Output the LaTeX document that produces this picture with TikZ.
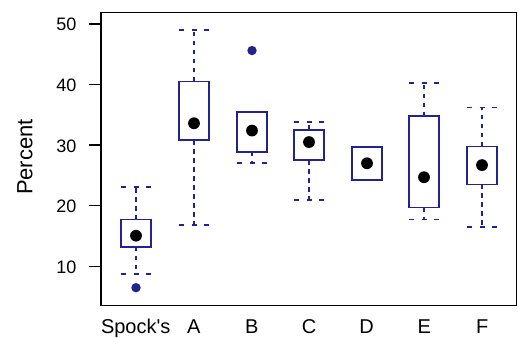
\documentclass[tikz,border=0pt]{standalone}
\usepackage{fontspec}
\setmainfont{Liberation Sans}
\definecolor{bxblue}{HTML}{23238C}
\newcommand\drawbxp[6]{%
  % #1 x, #2 lo, #3 q1, #4 med, #5 q3, #6 hi
  \draw[whisk] (#1,#3) -- (#1,#2);
  \draw[whisk] (#1,#5) -- (#1,#6);
  \draw[capline] (#1-15,#2) -- (#1+15,#2);
  \draw[capline] (#1-15,#6) -- (#1+15,#6);
  \draw[boxline] (#1-15,#3) rectangle (#1+15,#5);
  \fill[black] (#1,#4) ellipse [x radius=5.9pt, y radius=5.9pt];
}
\tikzset{
  whisk/.style={draw=bxblue, line width=1.7pt, dash pattern=on 4.5pt off 4.5pt},
  capline/.style={draw=bxblue, line width=1.7pt, dash pattern=on 5pt off 7.5pt},
  boxline/.style={draw=bxblue, line width=1.6pt},
  ticklab/.style={font=\fontsize{18}{18}\selectfont, anchor=east, inner sep=0pt},
  xlab/.style={font=\fontsize{20}{20}\selectfont, anchor=base, inner sep=0pt},
}
\begin{document}
\begin{tikzpicture}[x=1pt,y=1pt]
\useasboundingbox (0,0) rectangle (518,337);
\begin{scope}[y=6.06pt, yshift=10.1pt]
  \draw[line width=1.3pt, black] (101,3.5) rectangle (516.7,51.85);
  \foreach \v in {10,20,30,40,50} {
    \draw[line width=1.3pt] (89.3,\v) -- (101,\v);
    \node[ticklab] (t\v) at (76.5,\v-0.12) {\v};
  }
  \drawbxp{136}{8.68}{13.2}{15.05}{17.7}{23.1}
  \fill[bxblue] (136,6.47) circle[radius=4.7pt];
  \drawbxp{194}{16.77}{30.8}{33.6}{40.5}{48.94}
  \drawbxp{252}{27.0}{28.9}{32.4}{35.5}{35.5}
  \fill[bxblue] (252,45.6) circle[radius=4.7pt];
  \drawbxp{309}{20.9}{27.5}{30.5}{32.5}{33.8}
  \drawbxp{367}{24.2}{24.2}{27.0}{29.7}{29.7}
  \drawbxp{424}{17.7}{19.7}{24.7}{34.8}{40.2}
  \drawbxp{482}{16.5}{23.5}{26.7}{29.8}{36.2}
\end{scope}
\node[xlab] (ls) at (135.7,3.7) {Spock\textquotesingle s};
\node[xlab] (la) at (193.7,3.7) {A};
\node[xlab] (lb) at (251.7,3.7) {B};
\node[xlab] (lc) at (309,3.7) {C};
\node[xlab] (ld) at (366.7,3.7) {D};
\node[xlab] (le) at (424.3,3.7) {E};
\node[xlab] (lf) at (482.3,3.7) {F};
\node[font=\fontsize{22}{22}\selectfont, rotate=90, inner sep=0pt] (yl) at (25,180) {Percent};
\end{tikzpicture}
\end{document}
